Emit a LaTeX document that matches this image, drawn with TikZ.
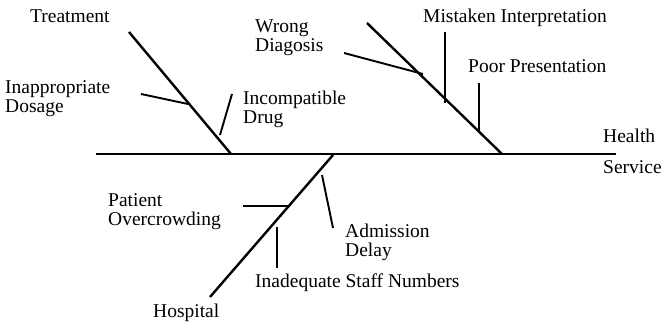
\documentclass[tikz,border=0pt]{standalone}
\usepackage{fontspec}
\setmainfont{Liberation Serif}
\usetikzlibrary{positioning}
\begin{document}
\begin{tikzpicture}[x=1pt, y=-1pt,
  spine/.style={line width=1.8pt},
  bone/.style={line width=2.4pt},
  twig/.style={line width=1.9pt},
  cause/.style={anchor=base west, inner sep=0pt, align=left, font=\fontsize{19.5}{19.5}\selectfont}
]
\path[fill=white, use as bounding box] (0,0) rectangle (662,323);
% spine and main bones
\coordinate (tail) at (96,154);
\coordinate (head) at (616,154);
\coordinate (trt) at (129,32);
\coordinate (trtj) at (231,154);
\coordinate (diag) at (367,23);
\coordinate (diagj) at (502,154);
\coordinate (hosp) at (210,297);
\coordinate (hospj) at (333,155);
\draw[spine] (tail) -- (head);
\draw[bone] (trt) -- (trtj);
\draw[bone] (diag) -- (diagj);
\draw[bone] (hosp) -- (hospj);
% causes
\coordinate (dos) at (141,94);   \coordinate (dosj) at (188,104);
\coordinate (inc) at (232,94);   \coordinate (incj) at (220,135);
\coordinate (wrg) at (344,53);   \coordinate (wrgj) at (423,74);
\coordinate (mis) at (445,32);   \coordinate (misj) at (445,103);
\coordinate (poor) at (479,83);  \coordinate (poorj) at (479,131);
\coordinate (pat) at (243,206);  \coordinate (patj) at (288,206);
\coordinate (adm) at (333,228);  \coordinate (admj) at (322,175);
\coordinate (stf) at (277,268);  \coordinate (stfj) at (277,227);
\draw[twig] (dos) -- (dosj);
\draw[twig] (inc) -- (incj);
\draw[twig] (wrg) -- (wrgj);
\draw[twig] (mis) -- (misj);
\draw[twig] (poor) -- (poorj);
\draw[twig] (pat) -- (patj);
\draw[twig] (adm) -- (admj);
\draw[twig] (stf) -- (stfj);
% labels (base is the last line)
\node[cause] (ltrt) at (30,23) {Treatment};
\node[cause] (ldos) at (5,113) {Inappropriate\\Dosage};
\node[cause] (linc) at (243,124) {Incompatible\\Drug};
\node[cause] (lwrg) at (255,52) {Wrong\\Diagosis};
\node[cause] (lmis) at (423,23) {Mistaken Interpretation};
\node[cause] (lpoor) at (468,73) {Poor Presentation};
\node[cause] (lhea) at (603,143) {Health};
\node[cause] (lser) at (603,174) {Service};
\node[cause] (lpat) at (108,226) {Patient\\Overcrowding};
\node[cause] (ladm) at (345,257) {Admission\\Delay};
\node[cause] (lstf) at (255,288) {Inadequate Staff Numbers};
\node[cause] (lhosp) at (153,318) {Hospital};
\end{tikzpicture}
\end{document}
